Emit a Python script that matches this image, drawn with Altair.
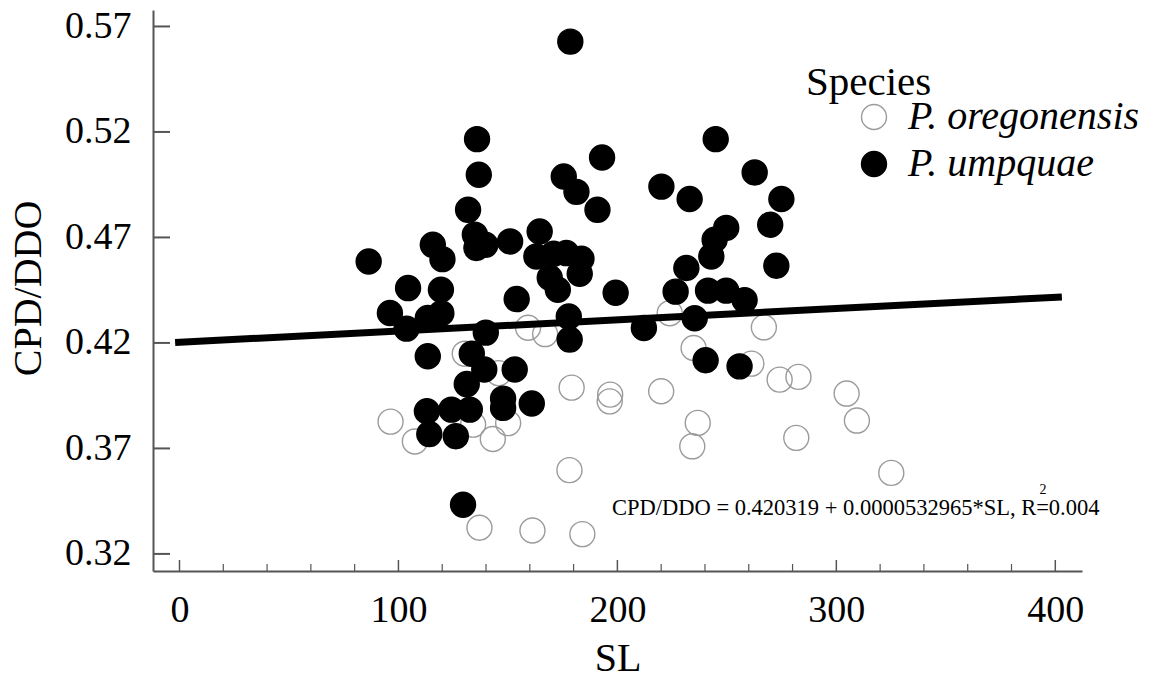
import altair as alt
import pandas as pd

# Standard length (SL) and CPD/DDO ratio for each specimen
ore_sl = [159.2, 167.0, 223.9, 266.9, 234.8, 261.2, 130.3, 145.8, 179.1, 196.7,
          196.5, 220.0, 274.1, 282.7, 304.7, 309.4, 96.4, 107.5, 134.1, 150.1,
          143.1, 236.7, 234.2, 281.7, 178.1, 325.1, 137.0, 161.2, 184.0]
ore_ratio = [0.4272, 0.4242, 0.4341, 0.4274, 0.4176, 0.4102, 0.4149, 0.4057, 0.3988, 0.3955,
             0.3923, 0.3971, 0.4026, 0.4039, 0.3960, 0.3832, 0.3827, 0.3733, 0.3813, 0.3820,
             0.3745, 0.3821, 0.3710, 0.3750, 0.3597, 0.3584, 0.3324, 0.3311, 0.3294]

ump_sl = [178.5, 135.9, 244.9, 193.0, 136.7, 175.5, 262.7, 181.3, 220.1, 233.0,
          274.9, 190.9, 131.8, 269.8, 249.7, 244.4, 242.9, 272.6, 231.5, 134.9,
          139.7, 135.6, 151.0, 164.5, 163.0, 170.9, 176.7, 183.6, 169.1, 182.8,
          172.8, 115.7, 120.1, 86.4, 104.4, 119.4, 154.0, 199.2, 226.6, 241.4,
          249.7, 258.1, 96.1, 113.4, 119.6, 103.7, 139.9, 177.8, 178.2, 212.1,
          235.3, 240.3, 255.8, 113.4, 133.5, 139.2, 153.1, 131.2, 113.0, 124.2,
          132.6, 147.8, 147.8, 160.9, 114.1, 126.2, 129.5]
ump_ratio = [0.5628, 0.5166, 0.5166, 0.5079, 0.4997, 0.4989, 0.5008, 0.4916, 0.4941, 0.4882,
             0.4882, 0.4831, 0.4831, 0.4760, 0.4745, 0.4689, 0.4610, 0.4566, 0.4555, 0.4713,
             0.4665, 0.4650, 0.4681, 0.4728, 0.4610, 0.4623, 0.4626, 0.4599, 0.4509, 0.4528,
             0.4452, 0.4665, 0.4597, 0.4586, 0.4460, 0.4452, 0.4408, 0.4438, 0.4443, 0.4448,
             0.4448, 0.4403, 0.4342, 0.4318, 0.4341, 0.4268, 0.4249, 0.4325, 0.4216, 0.4271,
             0.4317, 0.4118, 0.4089, 0.4137, 0.4149, 0.4074, 0.4074, 0.4005, 0.3876, 0.3884,
             0.3884, 0.3936, 0.3892, 0.3913, 0.3768, 0.3758, 0.3433]

species_names = ["P. oregonensis", "P. umpquae"]

# Least-squares fit reported on the chart
intercept = 0.420319
slope = 0.0000532965
r_squared = 0.004
fit_sl = [-2, 403]

y_ticks = [0.32, 0.37, 0.42, 0.47, 0.52, 0.57]
x_major = [0, 100, 200, 300, 400]
x_minor = [20, 40, 60, 80, 120, 140, 160, 180, 220, 240, 260, 280, 320, 340, 360, 380]

FONT = "Liberation Serif"
W, H = 929, 561
AXIS_COLOR = "#555555"

df = pd.concat([
    pd.DataFrame({"SL": ore_sl, "ratio": ore_ratio, "species": species_names[0]}),
    pd.DataFrame({"SL": ump_sl, "ratio": ump_ratio, "species": species_names[1]}),
], ignore_index=True)

fit_df = pd.DataFrame({"SL": fit_sl})
fit_df["ratio"] = intercept + slope * fit_df["SL"]

x_scale = alt.Scale(domain=[-12.1, 412.2], nice=False, zero=False)
y_scale = alt.Scale(domain=[0.3119, 0.5778], nice=False, zero=False)

legend = alt.Legend(
    title=None, orient="none", legendX=701, legendY=87, padding=0,
    labelFont=FONT, labelFontSize=40, labelFontStyle="italic", labelColor="black",
    labelLimit=500, symbolType="circle", symbolSize=625, symbolStrokeWidth=1.4,
    labelOffset=14, rowPadding=7,
)

points = alt.Chart(df).mark_circle(
    size=625, opacity=1, fillOpacity=1, strokeOpacity=1, strokeWidth=1.4
).encode(
    x=alt.X("SL:Q", scale=x_scale, axis=alt.Axis(
        values=x_major, format="d", title="SL", grid=False, ticks=False, tickSize=0,
        domainColor=AXIS_COLOR, domainWidth=2,
        labelFont=FONT, labelFontSize=38, labelColor="black", labelPadding=20,
        titleFont=FONT, titleFontSize=40, titleFontWeight="normal", titleColor="black",
        titleX=W / 2, titleY=99, titleBaseline="alphabetic", titleAlign="center",
    )),
    y=alt.Y("ratio:Q", scale=y_scale, axis=alt.Axis(
        values=y_ticks, format=".2f", title="CPD/DDO", grid=False, ticks=False, tickSize=0,
        domainColor=AXIS_COLOR, domainWidth=2,
        labelFont=FONT, labelFontSize=38, labelColor="black", labelPadding=22,
        titleFont=FONT, titleFontSize=40, titleFontWeight="normal", titleColor="black",
        titleX=-125, titleY=278, titleAngle=270, titleBaseline="middle", titleAlign="center",
    )),
    fill=alt.Fill("species:N", scale=alt.Scale(domain=species_names, range=["transparent", "black"]),
                  legend=legend),
    stroke=alt.Stroke("species:N", scale=alt.Scale(domain=species_names, range=["#9b9b9b", "black"]),
                      legend=legend),
)

fit_line = alt.Chart(fit_df).mark_line(color="black", strokeWidth=7, strokeCap="butt").encode(
    x=alt.X("SL:Q", scale=x_scale),
    y=alt.Y("ratio:Q", scale=y_scale),
)

# Inward-pointing tick marks along both axes
y_tick_marks = alt.Chart(pd.DataFrame({"v": y_ticks})).mark_rule(
    color=AXIS_COLOR, strokeWidth=2
).encode(y=alt.Y("v:Q", scale=y_scale), x=alt.value(0), x2=alt.value(17))

x_major_marks = alt.Chart(pd.DataFrame({"v": x_major})).mark_rule(
    color=AXIS_COLOR, strokeWidth=1.5
).encode(x=alt.X("v:Q", scale=x_scale), y=alt.value(H), y2=alt.value(H - 11))

x_minor_marks = alt.Chart(pd.DataFrame({"v": x_minor})).mark_rule(
    color=AXIS_COLOR, strokeWidth=1.2
).encode(x=alt.X("v:Q", scale=x_scale), y=alt.value(H), y2=alt.value(H - 7))

legend_title = alt.Chart(pd.DataFrame({"t": ["Species"]})).mark_text(
    font=FONT, fontSize=41, align="left", baseline="alphabetic", color="black"
).encode(text="t:N", x=alt.value(653), y=alt.value(85))

eq_text = "CPD/DDO = {:.6f} + {:.10f}*SL, R={:.3f}".format(intercept, slope, r_squared)
equation = alt.Chart(pd.DataFrame({"t": [eq_text]})).mark_text(
    font=FONT, fontSize=22.5, align="left", baseline="alphabetic", color="black"
).encode(text="t:N", x=alt.value(459), y=alt.value(505))

r_super = alt.Chart(pd.DataFrame({"t": ["2"]})).mark_text(
    font=FONT, fontSize=14, align="center", baseline="alphabetic", color="black"
).encode(text="t:N", x=alt.value(890), y=alt.value(484))

chart = alt.layer(
    points, fit_line, y_tick_marks, x_major_marks, x_minor_marks,
    legend_title, equation, r_super,
).properties(
    width=W, height=H,
    autosize=alt.AutoSizeParams(type="none"),
    padding={"left": 153, "top": 10, "right": 74, "bottom": 109},
    background="white",
).configure_view(stroke=None)

chart.save("out.html", embed_options={"renderer": "svg", "actions": False})
